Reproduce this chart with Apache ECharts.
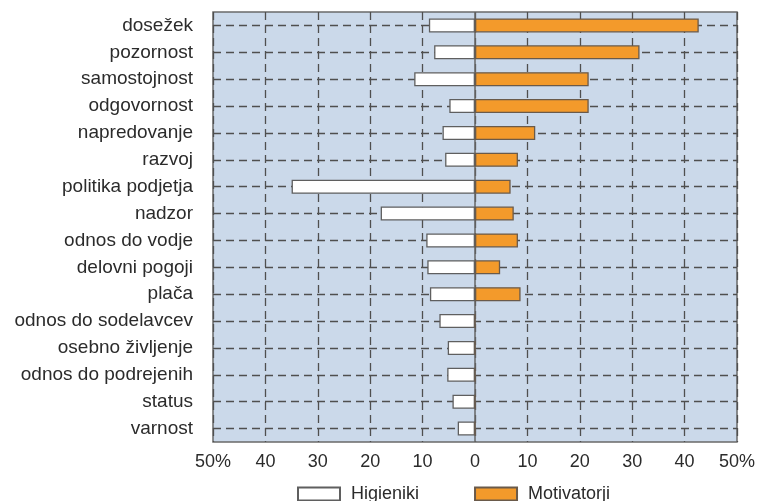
<!DOCTYPE html>
<html>
<head>
<meta charset="utf-8">
<script src="https://cdn.jsdelivr.net/npm/echarts@6/dist/echarts.min.js"></script>
<style>
  html, body { margin: 0; padding: 0; background: #fff; }
  #chart { width: 762px; height: 501px; }
</style>
</head>
<body>
<div id="chart"></div>
<script>
// categories top to bottom
let categories = ['dosežek', 'pozornost', 'samostojnost', 'odgovornost', 'napredovanje', 'razvoj',
  'politika podjetja', 'nadzor', 'odnos do vodje', 'delovni pogoji', 'plača', 'odnos do sodelavcev',
  'osebno življenje', 'odnos do podrejenih', 'status', 'varnost'];
// percent, drawn to the left
let higieniki = [8.8, 7.8, 11.6, 4.9, 6.2, 5.7, 35, 18, 9.3, 9.1, 8.6, 6.8, 5.2, 5.3, 4.3, 3.3];
// percent, drawn to the right
let motivatorji = [42.7, 31.4, 21.7, 21.7, 11.5, 8.2, 6.8, 7.4, 8.2, 4.8, 8.7, 0, 0, 0, 0, 0];
let legendNames = ['Higieniki', 'Motivatorji'];

let chart = echarts.init(document.getElementById('chart'));

let gridLine = { color: '#4f4f4f', width: 1.3, type: [8, 5] };
let txt = '#2b2b2b';

chart.setOption({
  animation: false,
  textStyle: { fontFamily: 'Liberation Sans, Arial, sans-serif' },
  grid: {
    left: 213, right: 25, top: 12, bottom: 59,
    show: true, backgroundColor: '#cbd9ea', borderColor: '#6a6a6a', borderWidth: 1.5
  },
  legend: {
    data: legendNames,
    left: 297, top: 485, padding: 0,
    icon: 'rect', itemWidth: 42, itemHeight: 13, itemGap: 55,
    textStyle: { fontSize: 18, color: txt, padding: [0, 0, 0, 6] }
  },
  xAxis: {
    type: 'value', min: -50, max: 50, interval: 10,
    axisLine: { show: false }, axisTick: { show: false },
    splitLine: { show: true, lineStyle: gridLine },
    axisLabel: {
      fontSize: 18, color: txt, margin: 11, showMinLabel: true, showMaxLabel: true,
      formatter: function (v) { return Math.abs(v) === 50 ? '50%' : String(Math.abs(v)); }
    }
  },
  yAxis: {
    type: 'category', data: categories, inverse: true,
    axisLine: { show: false }, axisTick: { show: false }, splitLine: { show: false },
    axisLabel: { fontSize: 19, color: txt, margin: 20 }
  },
  series: [
    {
      name: 'grid', type: 'line', data: [], z: 1, silent: true,
      markLine: {
        z: 1, silent: true, symbol: 'none', label: { show: false },
        lineStyle: gridLine,
        data: categories.map(function (c) { return { yAxis: c }; })
          .concat([{ xAxis: 0, lineStyle: { type: 'solid', color: '#666', width: 1.5 } }])
      }
    },
    {
      name: 'Higieniki', type: 'bar', z: 5, barWidth: 14, barGap: '-100%',
      itemStyle: { color: '#ffffff', borderColor: '#5f5f5f', borderWidth: 1.3 },
      data: higieniki.map(function (v) { return -v; })
    },
    {
      name: 'Motivatorji', type: 'bar', z: 5, barWidth: 14, barGap: '-100%',
      itemStyle: { color: '#f39a2b', borderColor: '#6a5a4a', borderWidth: 1.3 },
      data: motivatorji
    }
  ]
});
</script>
</body>
</html>
